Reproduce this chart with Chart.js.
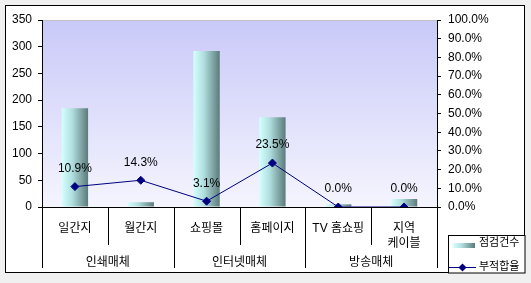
<!DOCTYPE html>
<html><head><meta charset="utf-8">
<script src="https://cdn.jsdelivr.net/npm/chart.js@4"></script>
<style>html,body{margin:0;padding:0;background:#f0f0f0;}canvas{display:block}</style>
</head><body><canvas id="c" width="531" height="283"></canvas>
<script>
const categories = ['일간지','월간지','쇼핑몰','홈페이지','TV 홈쇼핑',['지역','케이블']];
const groups = ['인쇄매체','인터넷매체','방송매체'];
const groupSizes = [2,2,2];
const inspections = [185, 9, 292, 168, 5, 15];
const nonconformRate = [0.109, 0.143, 0.031, 0.235, 0.0, 0.0];
const seriesNames = ['점검건수','부적합율'];
const leftTicks = {min:0, max:350, step:50};
const rightTicks = {min:0, max:1, step:0.1};

const FONT = '"Liberation Sans", "Noto Sans CJK KR", sans-serif';
Chart.defaults.font.family = FONT;
Chart.defaults.font.size = 12;
Chart.defaults.color = '#000';

function barGradient(chart, i){
  const xs = chart.scales.x;
  if(!xs) return '#9cc';
  const c = xs.getPixelForValue(i);
  const w = xs.width / categories.length * 0.4;
  if(!isFinite(c) || !isFinite(w) || w <= 0) return '#9cc';
  const g = chart.ctx.createLinearGradient(c - w/2, 0, c + w/2, 0);
  g.addColorStop(0, '#d6ffff');
  g.addColorStop(0.4, '#b0dede');
  g.addColorStop(1, '#5c7a7a');
  return g;
}

const deco = {
  id: 'deco',
  beforeDraw(chart){
    const ctx = chart.ctx, a = chart.chartArea;
    ctx.save();
    ctx.fillStyle = '#f0f0f0'; ctx.fillRect(0,0,chart.width,chart.height);
    ctx.fillStyle = '#fff'; ctx.fillRect(5,5,520,268);
    ctx.strokeStyle = '#000'; ctx.lineWidth = 1; ctx.strokeRect(5.5,5.5,519,267);
    const g = ctx.createLinearGradient(0,a.top,0,a.bottom);
    g.addColorStop(0,'#c9c9f9'); g.addColorStop(1,'#f5f5fe');
    ctx.fillStyle = g; ctx.fillRect(a.left,a.top,a.right-a.left,a.bottom-a.top);
    ctx.strokeStyle = '#c0c0c0';
    ctx.beginPath(); ctx.moveTo(a.left, a.top+0.5); ctx.lineTo(a.right, a.top+0.5); ctx.stroke();
    ctx.restore();
  },
  afterDatasetsDraw(chart){
    const ctx = chart.ctx;
    const meta = chart.getDatasetMeta(1);
    ctx.save();
    ctx.fillStyle = '#000';
    ctx.font = '12px ' + FONT;
    ctx.textAlign = 'center'; ctx.textBaseline = 'middle';
    meta.data.forEach((p,i)=>{
      ctx.fillText((nonconformRate[i]*100).toFixed(1)+'%', p.x, p.y - 18);
    });
    ctx.restore();
  },
  afterDraw(chart){
    const ctx = chart.ctx, a = chart.chartArea, xs = chart.scales.x;
    const n = categories.length;
    ctx.save();
    ctx.strokeStyle = '#000'; ctx.lineWidth = 1;
    const groupEnds = new Set([0]);
    let acc = 0; groupSizes.forEach(s=>{acc+=s; groupEnds.add(acc);});
    for(let k=0;k<=n;k++){
      let x;
      if(k===0) x = a.left; else if(k===n) x = a.right;
      else x = (xs.getPixelForValue(k-1)+xs.getPixelForValue(k))/2;
      x = Math.round(x)+0.5;
      const yEnd = groupEnds.has(k) ? 268 : 245;
      ctx.beginPath(); ctx.moveTo(x, a.bottom); ctx.lineTo(x, yEnd); ctx.stroke();
    }
    ctx.fillStyle = '#fff'; ctx.fillRect(448,235,77,38);
    ctx.strokeRect(448.5,235.5,76.5,37.5);
    const g = ctx.createLinearGradient(453,0,475,0);
    g.addColorStop(0,'#d6ffff'); g.addColorStop(0.4,'#b0dede'); g.addColorStop(1,'#5c7a7a');
    ctx.fillStyle = g; ctx.fillRect(453,243,22,5);
    ctx.fillStyle = '#000';
    ctx.font = '11px ' + FONT; ctx.textAlign='left'; ctx.textBaseline='middle';
    ctx.fillText(seriesNames[0], 479, 243);
    ctx.strokeStyle = '#000080';
    ctx.beginPath(); ctx.moveTo(449,267.5); ctx.lineTo(476,267.5); ctx.stroke();
    ctx.fillStyle = '#000080';
    ctx.beginPath(); ctx.moveTo(462.5,263.5); ctx.lineTo(466.5,267.5); ctx.lineTo(462.5,271.5); ctx.lineTo(458.5,267.5); ctx.closePath(); ctx.fill();
    ctx.fillStyle = '#000';
    ctx.fillText(seriesNames[1], 479, 267);
    ctx.restore();
  }
};

new Chart(document.getElementById('c'), {
  data: {
    labels: categories,
    datasets: [
      { type:'bar', label: seriesNames[0], data: inspections, yAxisID:'y', xAxisID:'x', order:1,
        backgroundColor: (c)=> c.type==='data' ? barGradient(c.chart, c.dataIndex) : '#9cc',
        borderWidth:0, categoryPercentage:0.8, barPercentage:0.5 },
      { type:'line', label: seriesNames[1], data: nonconformRate, yAxisID:'y1', xAxisID:'x', order:0,
        borderColor:'#000080', borderWidth:1, pointStyle:'rectRot', pointRadius:4,
        pointBackgroundColor:'#000080', pointBorderColor:'#000080', tension:0 }
    ]
  },
  options: {
    responsive:false, animation:false, devicePixelRatio:1,
    layout:{ padding:{top:20,left:0,right:0,bottom:0} },
    plugins:{ legend:{display:false}, title:{display:false}, tooltip:{enabled:false} },
    scales:{
      x:{ type:'category', position:'bottom', weight:0, offset:true,
          grid:{display:false, drawTicks:false}, border:{display:true,color:'#000'},
          ticks:{color:'#000', padding:14, maxRotation:0, autoSkip:false, font:{size:12, lineHeight:1.25}},
          afterFit(s){ s.height = 48; } },
      x2:{ type:'category', position:'bottom', weight:1, labels:groups, offset:true,
          grid:{display:false, drawTicks:false}, border:{display:false},
          ticks:{color:'#000', padding:0, maxRotation:0, autoSkip:false},
          afterFit(s){ s.height = 28; } },
      y:{ position:'left', min:leftTicks.min, max:leftTicks.max,
          ticks:{stepSize:leftTicks.step, color:'#000', padding:6},
          grid:{drawOnChartArea:false, tickLength:4, color:'#000'}, border:{color:'#000'},
          afterFit(s){ s.width = 42; } },
      y1:{ position:'right', min:rightTicks.min, max:rightTicks.max,
          ticks:{stepSize:rightTicks.step, color:'#000', padding:7, callback:v=>(v*100).toFixed(1)+'%'},
          grid:{drawOnChartArea:false, tickLength:4, color:'#000'}, border:{color:'#000'},
          afterFit(s){ s.width = 94; } }
    }
  },
  plugins:[deco]
});
</script></body></html>
